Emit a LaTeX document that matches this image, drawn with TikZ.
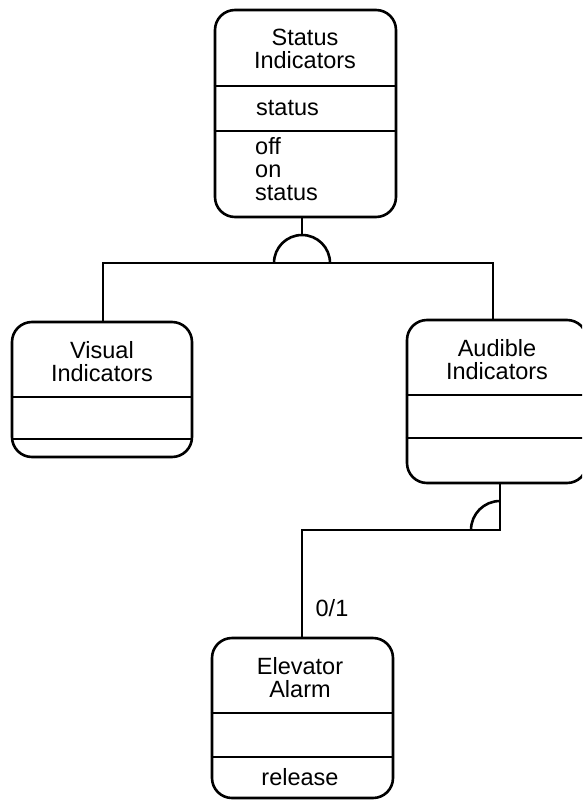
\documentclass[tikz,border=0pt]{standalone}
\usepackage{fontspec}
\setmainfont{Liberation Sans}
\begin{document}
\begin{tikzpicture}[x=1pt, y=-1pt,
                    every node/.style={font=\fontsize{23.5}{23}\selectfont, inner sep=0pt},
                    classbox/.style={draw, line width=2.6pt, rounded corners=20pt},
                    link/.style={line width=2.6pt},
                ]
                \useasboundingbox (0,0) rectangle (582,800);
                \clip (0,0) rectangle (582,800);
                % classes
                \node[classbox, minimum width=181pt, minimum height=207pt] (status) at (305.5,113.5) {};
                \node[classbox, minimum width=180pt, minimum height=135pt] (visual) at (102,389.5) {};
                \node[classbox, minimum width=180pt, minimum height=163pt] (audible) at (497,401.5) {};
                \node[classbox, minimum width=181pt, minimum height=160pt] (alarm) at (302.5,718) {};
                % dividers
                \draw[link] (status.west |- 0,86) -- (status.east |- 0,86);
                \draw[link] (status.west |- 0,131) -- (status.east |- 0,131);
                \draw[link] (visual.west |- 0,397) -- (visual.east |- 0,397);
                \draw[link] (visual.west |- 0,439) -- (visual.east |- 0,439);
                \draw[link] (audible.west |- 0,395) -- (audible.east |- 0,395);
                \draw[link] (audible.west |- 0,438) -- (audible.east |- 0,438);
                \draw[link] (alarm.west |- 0,713) -- (alarm.east |- 0,713);
                \draw[link] (alarm.west |- 0,757) -- (alarm.east |- 0,757);
                % texts
                \node[anchor=base, align=center] (statusname) at (305,68) {Status\\Indicators};
                \node[anchor=base west] (statusattr) at (256,115) {status};
                \node[anchor=base west, align=left] (statusops) at (255,200) {off\\on\\status};
                \node[anchor=base, align=center] (visualname) at (102,381) {Visual\\Indicators};
                \node[anchor=base, align=center] (audiblename) at (497,379) {Audible\\Indicators};
                \node[anchor=base, align=center] (alarmname) at (300,697) {Elevator\\Alarm};
                \node[anchor=base] (alarmops) at (300,785) {release};
                \node[anchor=base] (mult) at (332,616) {0/1};
                % generalization
                \draw[link] (302,0 |- status.south) -- (302,235);
                \draw[link] (274,263) arc (180:360:28);
                \draw[link] (103,0 |- visual.north) |- (493,263) -- (493,0 |- audible.north);
                % aggregation
                \draw[link] (500,0 |- audible.south) -- (500,530) -- (302,530) -- (302,0 |- alarm.north);
                \draw[link] (471,530) arc (180:270:29);
\end{tikzpicture}
\end{document}
